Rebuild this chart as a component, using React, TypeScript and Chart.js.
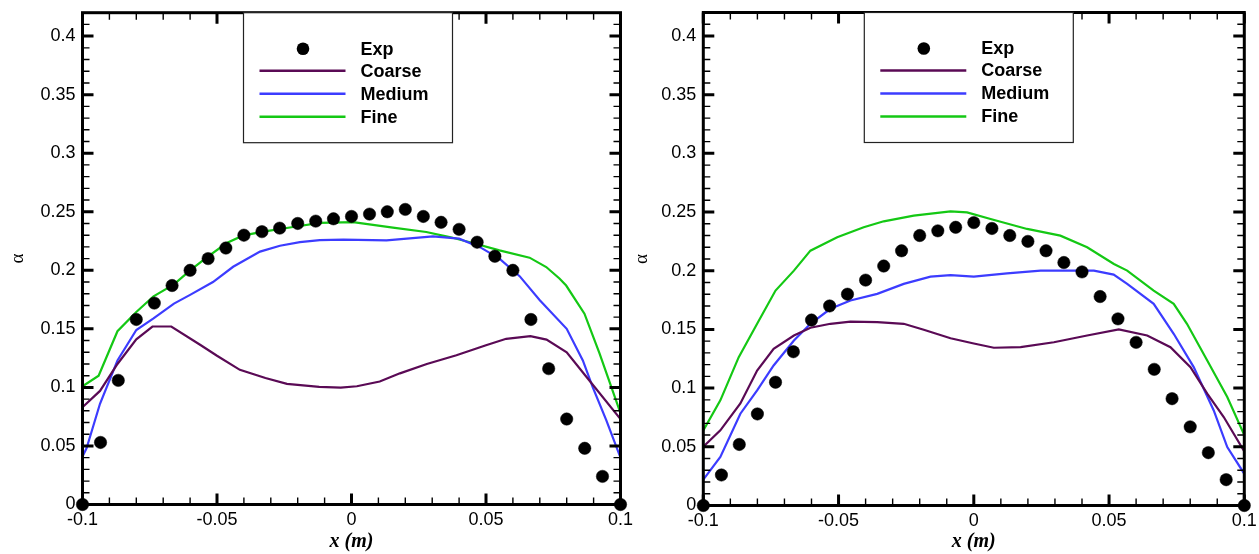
import React, { useEffect, useRef } from 'react';
import { Chart, registerables } from 'chart.js';

Chart.register(...registerables);

// ---- ticks ----
const xTickValues = [-0.1, -0.05, 0, 0.05, 0.1];
const xTickLabels = ['-0.1', '-0.05', '0', '0.05', '0.1'];
const yTickValues = [0, 0.05, 0.1, 0.15, 0.2, 0.25, 0.3, 0.35, 0.4];
const yTickLabels = ['0', '0.05', '0.1', '0.15', '0.2', '0.25', '0.3', '0.35', '0.4'];
const seriesNames = ['Exp', 'Coarse', 'Medium', 'Fine'];
const seriesColors = ['#000000', '#5a0a55', '#3c3cff', '#14c814'];
const xTitle = 'x (m)';
const yTitle = 'α';

// ---- experimental data (shared x positions) ----
const expX = [
  -0.1, -0.0933, -0.0867, -0.08, -0.0733, -0.0667, -0.06, -0.0533, -0.0467, -0.04, -0.0333,
  -0.0267, -0.02, -0.0133, -0.0067, 0, 0.0067, 0.0133, 0.02, 0.0267, 0.0333, 0.04, 0.0467,
  0.0533, 0.06, 0.0667, 0.0733, 0.08, 0.0867, 0.0933, 0.1,
];
const leftExpY = [
  0, 0.053, 0.106, 0.158, 0.172, 0.187, 0.2, 0.21, 0.219, 0.23, 0.233, 0.236, 0.24, 0.242,
  0.244, 0.246, 0.248, 0.25, 0.252, 0.246, 0.241, 0.235, 0.224, 0.212, 0.2, 0.158, 0.116,
  0.073, 0.048, 0.024, 0,
];
const rightExpY = [
  0, 0.026, 0.052, 0.078, 0.105, 0.131, 0.158, 0.17, 0.18, 0.192, 0.204, 0.217, 0.23, 0.234,
  0.237, 0.241, 0.236, 0.23, 0.225, 0.217, 0.207, 0.199, 0.178, 0.159, 0.139, 0.116, 0.091,
  0.067, 0.045, 0.022, 0,
];

// ---- left panel simulations ----
const leftCoarseX = [
  -0.1, -0.0935, -0.087, -0.08, -0.074, -0.067, -0.056, -0.05, -0.0415, -0.032, -0.024, -0.012,
  -0.004, 0.002, 0.0105, 0.018, 0.028, 0.039, 0.05, 0.0575, 0.0665, 0.0725, 0.08, 0.087, 0.1,
];
const leftCoarseY = [
  0.083, 0.097, 0.12, 0.141, 0.152, 0.152, 0.136, 0.127, 0.115, 0.108, 0.103, 0.1005, 0.0998,
  0.101, 0.105, 0.112, 0.12, 0.1275, 0.136, 0.1415, 0.1437, 0.1408, 0.13, 0.11, 0.073,
];
const leftMediumX = [
  -0.1, -0.0985, -0.0935, -0.087, -0.08, -0.0736, -0.066, -0.06, -0.0515, -0.044, -0.034,
  -0.0266, -0.0192, -0.0118, -0.003, 0.013, 0.0303, 0.04, 0.0476, 0.055, 0.0625, 0.07, 0.08,
  0.086, 0.0897, 0.0947, 0.1,
];
const leftMediumY = [
  0.041, 0.048, 0.086, 0.123, 0.149, 0.159, 0.1716, 0.179, 0.19, 0.203, 0.216, 0.221, 0.224,
  0.2258, 0.2262, 0.2256, 0.229, 0.227, 0.22, 0.21, 0.195, 0.1744, 0.15, 0.123, 0.1, 0.072, 0.04,
];
const leftFineX = [
  -0.1, -0.094, -0.087, -0.08, -0.0736, -0.066, -0.06, -0.0538, -0.0464, -0.0402, -0.0316,
  -0.0217, -0.0118, 0.0006, 0.0154, 0.0278, 0.0365, 0.0451, 0.055, 0.0662, 0.0724, 0.0773,
  0.0798, 0.0866, 0.0922, 0.1,
];
const leftFineY = [
  0.101, 0.11, 0.148, 0.1644, 0.1778, 0.188, 0.2, 0.211, 0.2233, 0.2298, 0.2335, 0.237, 0.2405,
  0.2412, 0.2364, 0.2327, 0.2284, 0.2233, 0.217, 0.2108, 0.2028, 0.193, 0.187, 0.163, 0.129,
  0.078,
];

// ---- right panel simulations ----
const rightCoarseX = [
  -0.1, -0.0937, -0.0863, -0.0801, -0.074, -0.0665, -0.0604, -0.053, -0.0456, -0.0357, -0.0259,
  -0.0185, -0.0086, 0, 0.0074, 0.0173, 0.0296, 0.0419, 0.0536, 0.0641, 0.0727, 0.0801, 0.0863,
  0.0924, 0.1,
];
const rightCoarseY = [
  0.05, 0.064, 0.087, 0.115, 0.1335, 0.1448, 0.1514, 0.1548, 0.1567, 0.1562, 0.1548, 0.1497,
  0.1425, 0.138, 0.1344, 0.1349, 0.1391, 0.1448, 0.15, 0.1448, 0.1349, 0.1179, 0.0953, 0.0754,
  0.046,
];
const rightMediumX = [
  -0.1, -0.0937, -0.0863, -0.0801, -0.074, -0.0665, -0.0604, -0.053, -0.0456, -0.0357, -0.0259,
  -0.016, -0.0086, 0, 0.0123, 0.0247, 0.0444, 0.0517, 0.0567, 0.0665, 0.0739, 0.0813, 0.0887,
  0.0937, 0.1,
];
const rightMediumY = [
  0.022, 0.0413, 0.0782, 0.098, 0.1193, 0.1406, 0.1548, 0.1676, 0.1746, 0.1803, 0.1888, 0.195,
  0.1962, 0.195, 0.1978, 0.2001, 0.2001, 0.1967, 0.1888, 0.1718, 0.1463, 0.1179, 0.081, 0.0498,
  0.027,
];
const rightFineX = [
  -0.1, -0.0937, -0.0869, -0.0801, -0.0733, -0.0665, -0.0604, -0.0505, -0.0407, -0.0333,
  -0.0222, -0.0086, -0.0025, 0.0062, 0.0197, 0.032, 0.0419, 0.0518, 0.0567, 0.0665, 0.0739,
  0.0788, 0.0863, 0.0937, 0.1,
];
const rightFineY = [
  0.064, 0.0896, 0.1264, 0.1548, 0.1831, 0.2001, 0.2171, 0.2285, 0.237, 0.2421, 0.2469, 0.2506,
  0.2497, 0.2441, 0.2356, 0.2299, 0.22, 0.2058, 0.2001, 0.1831, 0.1718, 0.1548, 0.1236, 0.0924,
  0.06,
];

const SANS = "'Liberation Sans', Arial, sans-serif";
const SERIF = "'Liberation Serif', 'Times New Roman', serif";

const zip = (xs: number[], ys: number[]) => xs.map((x, i) => ({ x, y: ys[i] }));

type PanelGeom = {
  width: number;
  height: number;
  left: number;
  right: number;
  top: number;
  bottom: number;
  yTitlePad: number;
};

function makeFramePlugin() {
  return {
    id: 'frameTicks',
    afterDatasetsDraw(chart: any) {
      const { ctx, chartArea: a, scales } = chart;
      const xs = scales.x;
      const ys = scales.y;
      ctx.save();
      ctx.strokeStyle = '#000';
      ctx.lineCap = 'butt';
      for (let i = 0; i <= 20; i++) {
        const v = -0.1 + i * 0.01;
        const major = i % 5 === 0;
        const len = major ? 11 : 7;
        ctx.lineWidth = major ? 3 : 1.4;
        const px = xs.getPixelForValue(v);
        ctx.beginPath();
        ctx.moveTo(px, a.bottom);
        ctx.lineTo(px, a.bottom - len);
        ctx.moveTo(px, a.top);
        ctx.lineTo(px, a.top + len);
        ctx.stroke();
      }
      for (let i = 0; i <= 42; i++) {
        const v = i * 0.01;
        const major = i % 5 === 0;
        const len = major ? 11 : 7;
        ctx.lineWidth = major ? 3 : 1.4;
        const py = ys.getPixelForValue(v);
        ctx.beginPath();
        ctx.moveTo(a.left, py);
        ctx.lineTo(a.left + len, py);
        ctx.moveTo(a.right, py);
        ctx.lineTo(a.right - len, py);
        ctx.stroke();
      }
      ctx.lineWidth = 3;
      ctx.strokeRect(a.left, a.top, a.right - a.left, a.bottom - a.top);
      ctx.restore();
    },
  };
}

function makeLegendPlugin() {
  return {
    id: 'boxLegend',
    afterDraw(chart: any) {
      const { ctx, chartArea: a } = chart;
      const bx = a.left + 161;
      const by = a.top;
      const bw = 209;
      const bh = 130;
      ctx.save();
      ctx.fillStyle = '#fff';
      ctx.fillRect(bx, by, bw, bh);
      ctx.strokeStyle = '#222';
      ctx.lineWidth = 1.2;
      ctx.strokeRect(bx, by, bw, bh);
      const rows = [36, 58, 81, 104];
      chart.data.datasets.forEach((ds: any, i: number) => {
        const cy = by + rows[i];
        if (i === 0) {
          ctx.fillStyle = ds.backgroundColor;
          ctx.beginPath();
          ctx.arc(bx + 59.5, cy, 6.3, 0, Math.PI * 2);
          ctx.fill();
        } else {
          ctx.strokeStyle = ds.borderColor;
          ctx.lineWidth = 2.5;
          ctx.beginPath();
          ctx.moveTo(bx + 16, cy);
          ctx.lineTo(bx + 102, cy);
          ctx.stroke();
        }
        ctx.fillStyle = '#000';
        ctx.font = `bold 18px ${SANS}`;
        ctx.textAlign = 'left';
        ctx.textBaseline = 'middle';
        ctx.fillText(ds.label, bx + 117, cy + 1);
      });
      ctx.restore();
    },
  };
}

function zeroPad(s: any) {
  s.paddingLeft = 0;
  s.paddingRight = 0;
  s.paddingTop = 0;
  s.paddingBottom = 0;
}

function Panel(props: {
  geom: PanelGeom;
  expY: number[];
  coarse: { x: number; y: number }[];
  medium: { x: number; y: number }[];
  fine: { x: number; y: number }[];
  style: React.CSSProperties;
}) {
  const ref = useRef<HTMLCanvasElement | null>(null);
  useEffect(() => {
    if (!ref.current) return;
    const g = props.geom;
    const chart = new Chart(ref.current, {
      type: 'line',
      data: {
        datasets: [
          {
            label: seriesNames[0],
            data: zip(expX, props.expY),
            showLine: false,
            pointRadius: 6.2,
            pointHoverRadius: 6.2,
            backgroundColor: seriesColors[0],
            borderColor: seriesColors[0],
            pointBorderWidth: 0.5,
            clip: false,
          },
          {
            label: seriesNames[1],
            data: props.coarse,
            borderColor: seriesColors[1],
            backgroundColor: seriesColors[1],
            borderWidth: 2.2,
            pointRadius: 0,
            tension: 0,
          },
          {
            label: seriesNames[2],
            data: props.medium,
            borderColor: seriesColors[2],
            backgroundColor: seriesColors[2],
            borderWidth: 2.2,
            pointRadius: 0,
            tension: 0,
          },
          {
            label: seriesNames[3],
            data: props.fine,
            borderColor: seriesColors[3],
            backgroundColor: seriesColors[3],
            borderWidth: 2.2,
            pointRadius: 0,
            tension: 0,
          },
        ],
      },
      options: {
        animation: false,
        responsive: false,
        devicePixelRatio: 1,
        events: [],
        layout: {
          padding: { left: 0, top: g.top, right: g.width - g.right, bottom: 0 },
        },
        plugins: {
          legend: { display: false },
          tooltip: { enabled: false },
          title: { display: false },
        },
        scales: {
          x: {
            type: 'linear',
            position: 'bottom',
            min: -0.1,
            max: 0.1,
            grid: { display: false, drawTicks: false },
            border: { display: false },
            afterBuildTicks: (s: any) => {
              s.ticks = xTickValues.map((v) => ({ value: v }));
            },
            afterFit: (s: any) => {
              s.height = g.height - g.bottom;
              zeroPad(s);
            },
            ticks: {
              autoSkip: false,
              maxRotation: 0,
              padding: 5,
              color: '#000',
              font: { family: SANS, size: 18 },
              callback: (_v: any, i: number) => xTickLabels[i],
            },
            title: {
              display: true,
              text: xTitle,
              color: '#000',
              font: { family: SERIF, size: 20, weight: 'bold', style: 'italic' },
              padding: { top: 0, bottom: 0 },
            },
          },
          y: {
            type: 'linear',
            position: 'left',
            min: 0,
            max: 0.42,
            grid: { display: false, drawTicks: false },
            border: { display: false },
            afterBuildTicks: (s: any) => {
              s.ticks = yTickValues.map((v) => ({ value: v }));
            },
            afterFit: (s: any) => {
              s.width = g.left;
              zeroPad(s);
            },
            ticks: {
              autoSkip: false,
              padding: 7,
              color: '#000',
              font: { family: SANS, size: 18 },
              callback: (_v: any, i: number) => yTickLabels[i],
            },
            title: {
              display: true,
              text: yTitle,
              color: '#000',
              font: { family: SERIF, size: 19 },
              padding: { top: g.yTitlePad, bottom: 0 },
            },
          },
        },
      },
      plugins: [makeFramePlugin(), makeLegendPlugin()],
    } as any);
    return () => chart.destroy();
  }, []);
  return (
    <canvas
      ref={ref}
      width={props.geom.width}
      height={props.geom.height}
      style={{ position: 'absolute', top: 0, width: props.geom.width, height: props.geom.height, ...props.style }}
    />
  );
}

const leftGeom: PanelGeom = { width: 645, height: 554, left: 82.5, right: 620.5, top: 12.7, bottom: 504.5, yTitlePad: 7 };
const rightGeom: PanelGeom = { width: 629, height: 554, left: 73.3, right: 614.3, top: 12.5, bottom: 505.5, yTitlePad: 1 };

export default function App() {
  return (
    <div style={{ position: 'absolute', left: 0, top: 0, width: 1259, height: 554, background: '#fff', overflow: 'hidden' }}>
      <Panel
        geom={leftGeom}
        expY={leftExpY}
        coarse={zip(leftCoarseX, leftCoarseY)}
        medium={zip(leftMediumX, leftMediumY)}
        fine={zip(leftFineX, leftFineY)}
        style={{ left: 0 }}
      />
      <Panel
        geom={rightGeom}
        expY={rightExpY}
        coarse={zip(rightCoarseX, rightCoarseY)}
        medium={zip(rightMediumX, rightMediumY)}
        fine={zip(rightFineX, rightFineY)}
        style={{ left: 630 }}
      />
    </div>
  );
}
